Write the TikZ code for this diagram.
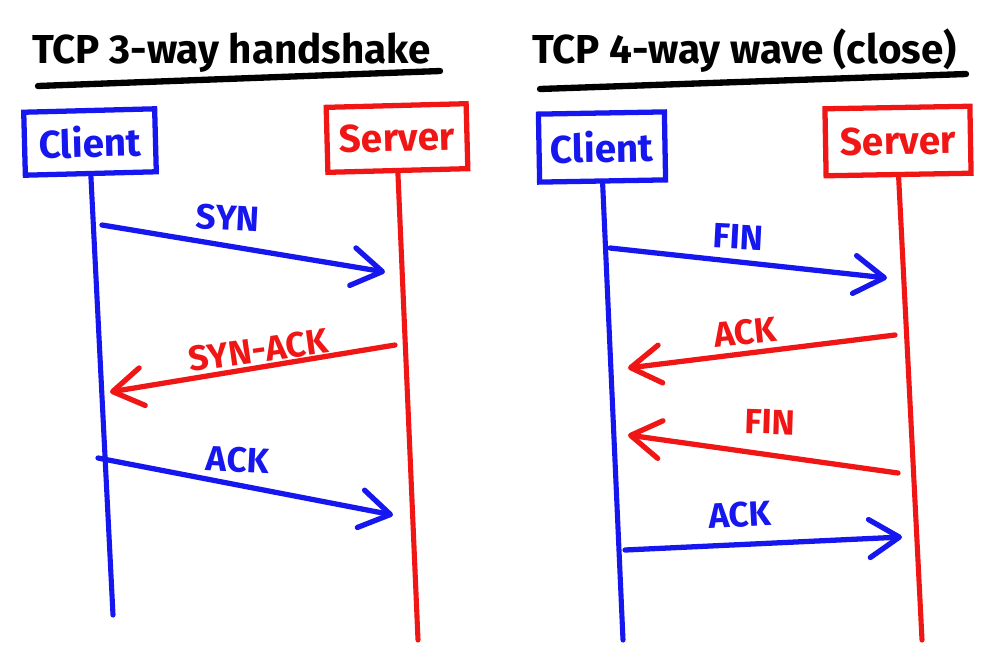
\documentclass[tikz,border=0pt]{standalone}
\usepackage{fontspec}
\setmainfont{Fira Sans}
\usetikzlibrary{arrows.meta, positioning, calc}
\definecolor{cblue}{RGB}{22,22,238}
\definecolor{sred}{RGB}{240,22,22}

\begin{document}
\begin{tikzpicture}[
  x=0.02cm, y=-0.02cm,
  >={Straight Barb[length=0.6cm, width=0.76cm, round]},
  every node/.style={font=\bfseries},
  % --- text styles ---
  title/.style={font=\fontsize{23}{27}\selectfont\bfseries, anchor=base west},
  lbl/.style={font=\fontsize{20}{24}\selectfont\bfseries},
  % --- box styles ---
  clientbox/.style={
    draw=cblue, text=cblue, line width=3pt, inner sep=0pt,
    font=\fontsize{22}{26}\selectfont\bfseries,
  },
  serverbox/.style={
    draw=sred, text=sred, line width=3pt, inner sep=0pt,
    font=\fontsize{22}{26}\selectfont\bfseries,
  },
  uline/.style={line width=3.6pt, line cap=round},
  life/.style={line width=2.9pt, line cap=round},
  msg/.style={->, line width=3pt, line cap=round},
]
\useasboundingbox (0,0) rectangle (1000,667);

% ========== Left: 3-way handshake ==========
\node[title] (t1) at (26,63) {TCP 3-way handshake};
\coordinate (u1a) at (38,86);
\coordinate (u1b) at (440,71);
\draw[uline] (u1a) -- (u1b);

\node[clientbox, minimum width=2.62cm, minimum height=1.26cm, rotate=1.5]
  (c1) at (90,142) {Client};
\node[serverbox, minimum width=2.8cm, minimum height=1.3cm, rotate=1.5]
  (s1) at (397,138) {Server};

\coordinate (c1end) at (113,615);
\coordinate (s1end) at (418,640);
\draw[life, cblue] (c1.south) -- (c1end);
\draw[life, sred] (s1.south) -- (s1end);

% messages
\coordinate (syn-s) at (102,225);
\coordinate (syn-e) at (385,272);
\coordinate (sa-s) at (395,345);
\coordinate (sa-e) at (110,392);
\coordinate (ack-s) at (98,458);
\coordinate (ack-e) at (393,515);

\draw[msg, cblue] (syn-s) -- (syn-e);
\node[lbl, text=cblue, rotate=-3] (synl) at (228,218) {SYN};

\draw[msg, sred] (sa-s) -- (sa-e);
\node[lbl, text=sred, rotate=8] (sal) at (258,350) {SYN-ACK};

\draw[msg, cblue] (ack-s) -- (ack-e);
\node[lbl, text=cblue, rotate=-3] (ackl) at (238,460) {ACK};

% ========== Right: 4-way wave ==========
\node[title] (t2) at (526,63) {TCP 4-way wave (close)};
\coordinate (u2a) at (540,89);
\coordinate (u2b) at (966,74);
\draw[uline] (u2a) -- (u2b);

\node[clientbox, minimum width=2.52cm, minimum height=1.36cm, rotate=1]
  (c2) at (602,147) {Client};
\node[serverbox, minimum width=2.9cm, minimum height=1.34cm, rotate=1]
  (s2) at (898,141) {Server};

\coordinate (c2end) at (623,640);
\coordinate (s2end) at (922,640);
\draw[life, cblue] (c2.south) -- (c2end);
\draw[life, sred] (s2.south) -- (s2end);

% messages
\coordinate (fin1-s) at (610,248);
\coordinate (fin1-e) at (887,278);
\coordinate (ack1-s) at (895,335);
\coordinate (ack1-e) at (628,368);
\coordinate (fin2-s) at (898,473);
\coordinate (fin2-e) at (628,435);
\coordinate (ack2-s) at (625,550);
\coordinate (ack2-e) at (902,537);

\draw[msg, cblue] (fin1-s) -- (fin1-e);
\node[lbl, text=cblue, rotate=-3] (fin1l) at (738,237) {FIN};

\draw[msg, sred] (ack1-s) -- (ack1-e);
\node[lbl, text=sred, rotate=6] (ack1l) at (745,332) {ACK};

\draw[msg, sred] (fin2-s) -- (fin2-e);
\node[lbl, text=sred, rotate=-2] (fin2l) at (770,422) {FIN};

\draw[msg, cblue] (ack2-s) -- (ack2-e);
\node[lbl, text=cblue, rotate=3] (ack2l) at (740,515) {ACK};

\end{tikzpicture}
\end{document}
